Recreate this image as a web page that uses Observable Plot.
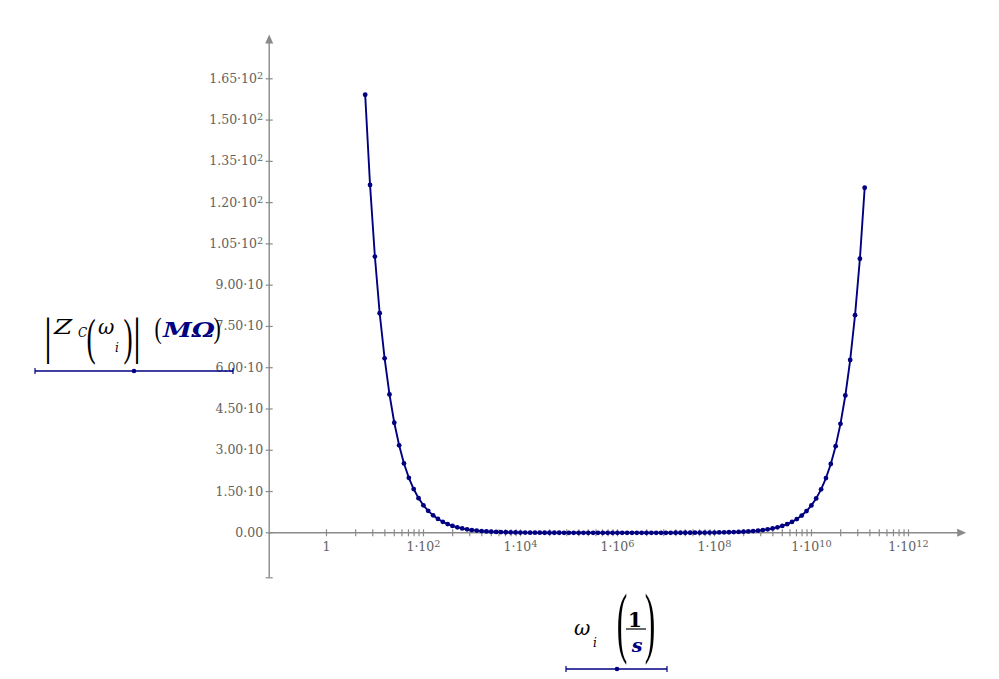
<!DOCTYPE html>
<html><head><meta charset="utf-8">
<script src="https://cdn.jsdelivr.net/npm/d3@7"></script>
<script src="https://cdn.jsdelivr.net/npm/@observablehq/plot@0.6"></script>
<style>
html,body{margin:0;padding:0;background:#fff;}
#chart{position:relative;width:999px;height:679px;}
svg{display:block}
</style></head><body><div id="chart"></div>
<script>
// angular frequency ω_i (1/s)
const omega = [
  6.28, 7.91, 9.96, 12.5, 15.8, 19.9, 25.0, 31.5, 39.6, 49.9,
  62.8, 79.1, 99.6, 125, 158, 199, 250, 315, 396, 499,
  628, 791, 996, 1.25e3, 1.58e3, 1.99e3, 2.50e3, 3.15e3, 3.96e3, 4.99e3,
  6.28e3, 7.91e3, 9.96e3, 1.25e4, 1.58e4, 1.99e4, 2.50e4, 3.15e4, 3.96e4, 4.99e4,
  6.28e4, 7.91e4, 9.96e4, 1.25e5, 1.58e5, 1.99e5, 2.50e5, 3.15e5, 3.96e5, 4.99e5,
  6.28e5, 7.91e5, 9.96e5, 1.25e6, 1.58e6, 1.99e6, 2.50e6, 3.15e6, 3.96e6, 4.99e6,
  6.28e6, 7.91e6, 9.96e6, 1.25e7, 1.58e7, 1.99e7, 2.50e7, 3.15e7, 3.96e7, 4.99e7,
  6.28e7, 7.91e7, 9.96e7, 1.25e8, 1.58e8, 1.99e8, 2.50e8, 3.15e8, 3.96e8, 4.99e8,
  6.28e8, 7.91e8, 9.96e8, 1.25e9, 1.58e9, 1.99e9, 2.50e9, 3.15e9, 3.96e9, 4.99e9,
  6.28e9, 7.91e9, 9.96e9, 1.25e10, 1.58e10, 1.99e10, 2.50e10, 3.15e10, 3.96e10, 4.99e10,
  6.28e10, 7.91e10, 9.96e10, 1.25e11
];
// |Z_C(ω_i)| in MΩ
const zMag = [
  159.2, 126.4, 100.4, 79.8, 63.4, 50.3, 40.0, 31.8, 25.2, 20.0,
  15.9, 12.6, 10.0, 7.98, 6.34, 5.03, 4.00, 3.18, 2.52, 2.00,
  1.59, 1.26, 1.00, 0.80, 0.63, 0.50, 0.40, 0.32, 0.25, 0.20,
  0.16, 0.13, 0.10, 0.08, 0.06, 0.05, 0.04, 0.03, 0.03, 0.02,
  0.02, 0.01, 0.01, 0.01, 0.01, 0.00, 0.00, 0.00, 0.00, 0.00,
  0.00, 0.00, 0.00, 0.00, 0.00, 0.00, 0.00, 0.00, 0.00, 0.00,
  0.01, 0.01, 0.01, 0.01, 0.02, 0.02, 0.03, 0.03, 0.04, 0.05,
  0.06, 0.08, 0.10, 0.13, 0.16, 0.20, 0.25, 0.31, 0.40, 0.50,
  0.63, 0.79, 1.00, 1.25, 1.58, 1.99, 2.50, 3.15, 3.96, 4.99,
  6.28, 7.91, 9.96, 12.5, 15.8, 19.9, 25.0, 31.5, 39.6, 49.9,
  62.8, 79.1, 99.6, 125.4
];
const yTicks = [0, 15, 30, 45, 60, 75, 90, 105, 120, 135, 150, 165];
const yTickLabels = ["0.00", "1.50·10", "3.00·10", "4.50·10", "6.00·10", "7.50·10", "9.00·10",
  "1.05·10²", "1.20·10²", "1.35·10²", "1.50·10²", "1.65·10²"];
const xTicks = [1, 1e2, 1e4, 1e6, 1e8, 1e10, 1e12];
const xTickLabels = ["1", "1·10²", "1·10⁴", "1·10⁶", "1·10⁸", "1·10¹⁰", "1·10¹²"];
const minorSteps = [4, 9, 16, 25, 36, 49, 64, 81];

const data = omega.map((w, i) => ({w, z: zMag[i]}));
const xMinor = xTicks.slice(0, -1).flatMap(a => minorSteps.map(m => a * m));

const xDomain = [Math.pow(10, -1.181), Math.pow(10, 13.19)];
const yDomain = [-16.35, 181.1];

const NAVY = "#000080";
const AXIS = "#8a8a8a";
const LABEL = "#626262";
const FONT = "DejaVu Serif";

const hSym = {draw(ctx, size) { const r = Math.sqrt(size / Math.PI); ctx.moveTo(-r, 0); ctx.lineTo(r, 0); }};
const vSym = {draw(ctx, size) { const r = Math.sqrt(size / Math.PI); ctx.moveTo(0, -r); ctx.lineTo(0, r); }};
const upArrow = {draw(ctx) { ctx.moveTo(0, 0); ctx.lineTo(-4, 9); ctx.lineTo(4, 9); ctx.closePath(); }};
const rightArrow = {draw(ctx) { ctx.moveTo(0, 0); ctx.lineTo(-9, -4); ctx.lineTo(-9, 4); ctx.closePath(); }};

const svg = Plot.plot({
  width: 999, height: 679,
  marginLeft: 268.7, marginRight: 33.3, marginTop: 34, marginBottom: 101.7,
  style: {background: "#fff", overflow: "visible"},
  x: {type: "log", domain: xDomain, axis: null},
  y: {domain: yDomain, axis: null},
  marks: [
    Plot.ruleX([xDomain[0]], {y1: yDomain[0], y2: yDomain[1] - 2, stroke: AXIS, strokeWidth: 1.4}),
    Plot.ruleY([0], {x1: xDomain[0], x2: xDomain[1] / 1.3, stroke: AXIS, strokeWidth: 1.4}),
    Plot.dot([yDomain[1]], {x: () => xDomain[0], y: d => d, symbol: upArrow, r: 4, fill: AXIS, stroke: "none"}),
    Plot.dot([0], {x: () => xDomain[1], y: d => d, symbol: rightArrow, r: 4, fill: AXIS, stroke: "none"}),
    Plot.dot(yTicks.concat([yDomain[0]]), {x: () => xDomain[0], y: d => d, symbol: hSym, r: 3.5, stroke: AXIS, fill: "none", strokeWidth: 1.2}),
    Plot.dot(xTicks.concat(xMinor), {x: d => d, y: () => 0, symbol: vSym, r: 3.5, stroke: AXIS, fill: "none", strokeWidth: 1.2}),
    Plot.text(yTicks, {x: () => xDomain[0], y: d => d, text: (d, i) => yTickLabels[i], textAnchor: "end", dx: -6, fontFamily: FONT, fontSize: 12.5, fill: LABEL, className: "ticklab"}),
    Plot.text(xTicks, {x: d => d, y: () => 0, text: (d, i) => xTickLabels[i], dy: 14, fontFamily: FONT, fontSize: 12.5, fill: LABEL, className: "ticklab"}),
    Plot.line(data, {x: "w", y: "z", stroke: NAVY, strokeWidth: 1.9}),
    Plot.dot(data, {x: "w", y: "z", r: 2.4, fill: NAVY, stroke: "none"})
  ]
});
document.getElementById("chart").appendChild(svg);

// turn unicode superscripts of tick labels into raised tspans
const supMap = {"⁰": "0", "¹": "1", "²": "2", "³": "3", "⁴": "4", "⁵": "5", "⁶": "6", "⁷": "7", "⁸": "8", "⁹": "9"};
svg.querySelectorAll(".ticklab text").forEach(t => {
  const s = t.textContent;
  const m = s.match(/^(.*?)([⁰¹²³⁴⁵⁶⁷⁸⁹]+)$/);
  if (!m) return;
  t.textContent = m[1];
  const sp = document.createElementNS("http://www.w3.org/2000/svg", "tspan");
  sp.setAttribute("dy", "-0.42em");
  sp.setAttribute("font-size", "0.78em");
  sp.textContent = [...m[2]].map(c => supMap[c]).join("");
  t.appendChild(sp);
});

// Mathcad-style axis labels
const g = d3.select(svg).append("g");
function txt(str, x, y, o = {}) {
  return g.append("text")
    .attr("transform", `translate(${x},${y}) scale(${o.sx || 1},${o.sy || 1})`)
    .attr("font-family", o.family || FONT)
    .attr("font-size", o.size || 18)
    .attr("font-style", o.style || "normal")
    .attr("font-weight", o.weight || "normal")
    .attr("text-anchor", o.anchor || "start")
    .attr("fill", o.fill || "#000")
    .text(str);
}
function underline(x1, x2, xm, y) {
  g.append("line").attr("x1", x1).attr("x2", x2).attr("y1", y).attr("y2", y).attr("stroke", NAVY).attr("stroke-width", 1.5);
  g.append("line").attr("x1", x1).attr("x2", x1).attr("y1", y - 3).attr("y2", y + 3).attr("stroke", NAVY).attr("stroke-width", 1.2);
  g.append("line").attr("x1", x2).attr("x2", x2).attr("y1", y - 3).attr("y2", y + 3).attr("stroke", NAVY).attr("stroke-width", 1.2);
  g.append("circle").attr("cx", xm).attr("cy", y).attr("r", 2.3).attr("fill", NAVY);
}

// |Z_C(ω_i)| (MΩ)
const SER = "Liberation Serif";
txt("|", 48, 353, {family: SER, size: 50, anchor: "middle", sx: 0.8});
txt("Z", 54, 334, {style: "italic", size: 21, sx: 1.25});
txt("C", 78, 337, {style: "italic", size: 12});
txt("(", 91, 354, {family: SER, size: 50, anchor: "middle", sx: 0.55});
txt("ω", 98, 334, {style: "italic", size: 20});
txt("i", 117, 352, {style: "italic", size: 12, anchor: "middle"});
txt(")", 128, 354, {family: SER, size: 50, anchor: "middle", sx: 0.55});
txt("|", 137, 353, {family: SER, size: 50, anchor: "middle", sx: 0.8});
txt("(", 158, 338, {family: SER, size: 29, anchor: "middle", sx: 0.75});
txt("MΩ", 163, 337, {style: "italic", weight: "bold", size: 20, fill: NAVY, sx: 1.3});
txt(")", 217, 338, {family: SER, size: 29, anchor: "middle", sx: 0.75});
underline(35, 233, 134, 371);

// ω_i (1/s)
txt("ω", 574, 635, {style: "italic", size: 20});
txt("i", 595, 647, {style: "italic", size: 12, anchor: "middle"});
txt("(", 622, 648, {family: SER, size: 79, anchor: "middle", sx: 0.4});
txt("1", 635, 627, {weight: "bold", size: 20, anchor: "middle"});
g.append("line").attr("x1", 626).attr("x2", 646).attr("y1", 629).attr("y2", 629).attr("stroke", "#000").attr("stroke-width", 1.2);
txt("s", 637, 652, {style: "italic", weight: "bold", size: 19, anchor: "middle", fill: NAVY});
txt(")", 650, 648, {family: SER, size: 79, anchor: "middle", sx: 0.4});
underline(566, 667, 617, 669);
</script>
</body></html>
